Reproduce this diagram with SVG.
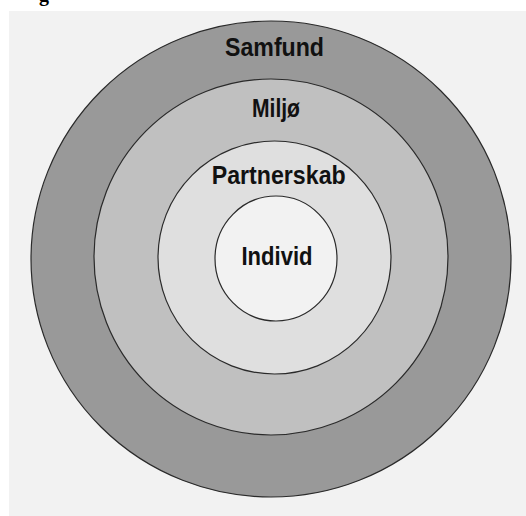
<svg xmlns="http://www.w3.org/2000/svg" width="526" height="516" viewBox="0 0 526 516">
  <style>
    .ring { stroke: #2a2a2a; stroke-width: 1.2; }
    .label { font-family: "Liberation Sans", Arial, sans-serif; font-weight: bold; font-size: 25px; fill: #111; text-anchor: middle; }
    .caption { font-family: "Liberation Serif", "Times New Roman", serif; font-weight: bold; font-size: 20px; fill: #000; }
  </style>
  <rect width="526" height="516" fill="#ffffff"/>
  <text class="caption" x="39" y="0.5">g</text>
  <rect x="9" y="11" width="517" height="505" fill="#f2f2f2"/>

  <g id="samfund">
    <ellipse class="ring" cx="271" cy="259" rx="240" ry="238" fill="#999999"/>
    <text class="label" x="274.5" y="56" textLength="99" lengthAdjust="spacingAndGlyphs">Samfund</text>
  </g>
  <g id="miljo">
    <ellipse class="ring" cx="271" cy="257" rx="177" ry="178" fill="#c0c0c0"/>
    <text class="label" x="276" y="117" textLength="48" lengthAdjust="spacingAndGlyphs">Miljø</text>
  </g>
  <g id="partnerskab">
    <ellipse class="ring" cx="274.5" cy="257.5" rx="116.5" ry="116.5" fill="#dfdfdf"/>
    <text class="label" x="278.7" y="184" textLength="134" lengthAdjust="spacingAndGlyphs">Partnerskab</text>
  </g>
  <g id="individ">
    <ellipse class="ring" cx="276" cy="258.5" rx="61" ry="62.5" fill="#f2f2f2"/>
    <text class="label" x="277" y="265" textLength="71" lengthAdjust="spacingAndGlyphs">Individ</text>
  </g>
  <g id="connectors"/>
</svg>
